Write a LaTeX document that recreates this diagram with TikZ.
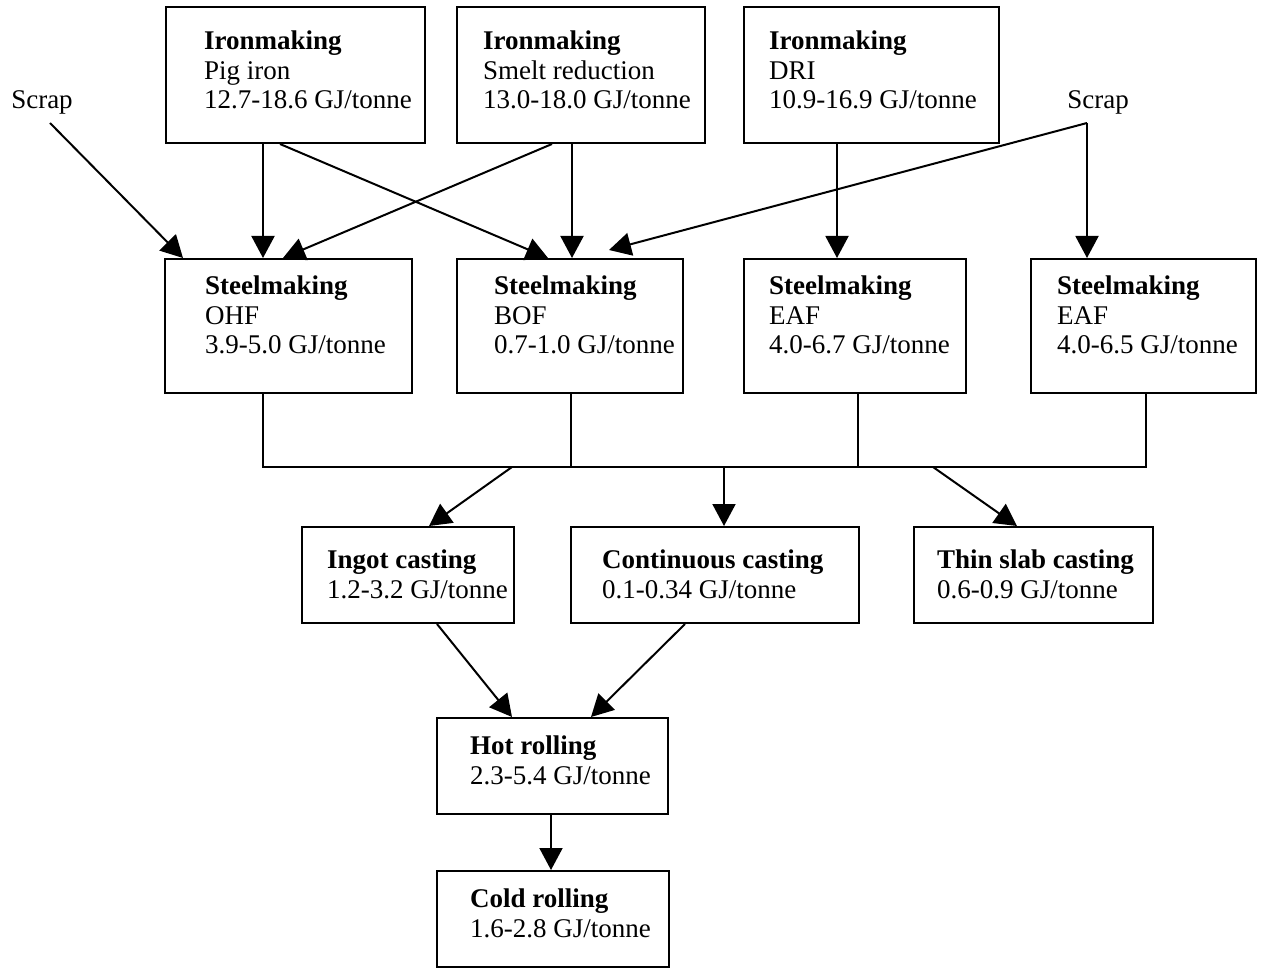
\documentclass[tikz,border=0pt]{standalone}
\usepackage{fontspec}
\setmainfont{Liberation Serif}
\usetikzlibrary{arrows.meta, calc}
\tikzset{
    procbox/.style={rectangle, draw=black, line width=2pt, anchor=north west, inner sep=0pt},
    proctext/.style={anchor=north west, align=left, inner sep=0pt, font=\fontsize{27}{29.5}\selectfont},
    scraplbl/.style={font=\fontsize{27}{29.5}\selectfont, inner sep=2pt},
    arr/.style={-{Triangle[length=22pt, width=23pt]}, line width=2pt},
    link/.style={line width=2pt}
}
\begin{document}
\begin{tikzpicture}[x=1pt, y=-1pt]
    \useasboundingbox (0,0) rectangle (1262,968);

    % Ironmaking
    \node[procbox, minimum width=259pt, minimum height=136pt] (pig) at (165,6) {};
    \node[proctext] (pigtext) at (204,31) {\textbf{Ironmaking}\\Pig iron\\12.7-18.6 GJ/tonne};
    \node[procbox, minimum width=248pt, minimum height=136pt] (smelt) at (456,6) {};
    \node[proctext] (smelttext) at (483,31) {\textbf{Ironmaking}\\Smelt reduction\\13.0-18.0 GJ/tonne};
    \node[procbox, minimum width=255pt, minimum height=136pt] (dri) at (743,6) {};
    \node[proctext] (dritext) at (769,31) {\textbf{Ironmaking}\\DRI\\10.9-16.9 GJ/tonne};
    \node[scraplbl] (scrapl) at (42,102) {Scrap};
    \node[scraplbl] (scrapr) at (1098,102) {Scrap};

    % Steelmaking
    \node[procbox, minimum width=247pt, minimum height=134pt] (ohf) at (164,258) {};
    \node[proctext] (ohftext) at (205,276) {\textbf{Steelmaking}\\OHF\\3.9-5.0 GJ/tonne};
    \node[procbox, minimum width=226pt, minimum height=134pt] (bof) at (456,258) {};
    \node[proctext] (boftext) at (494,276) {\textbf{Steelmaking}\\BOF\\0.7-1.0 GJ/tonne};
    \node[procbox, minimum width=222pt, minimum height=134pt] (eaf) at (743,258) {};
    \node[proctext] (eaftext) at (769,276) {\textbf{Steelmaking}\\EAF\\4.0-6.7 GJ/tonne};
    \node[procbox, minimum width=225pt, minimum height=134pt] (eafb) at (1030,258) {};
    \node[proctext] (eafbtext) at (1057,276) {\textbf{Steelmaking}\\EAF\\4.0-6.5 GJ/tonne};

    % Casting
    \node[procbox, minimum width=212pt, minimum height=96pt] (ingot) at (301,526) {};
    \node[proctext] (ingottext) at (327,550) {\textbf{Ingot casting}\\1.2-3.2 GJ/tonne};
    \node[procbox, minimum width=288pt, minimum height=96pt] (cont) at (570,526) {};
    \node[proctext] (conttext) at (602,550) {\textbf{Continuous casting}\\0.1-0.34 GJ/tonne};
    \node[procbox, minimum width=239pt, minimum height=96pt] (thin) at (913,526) {};
    \node[proctext] (thintext) at (937,550) {\textbf{Thin slab casting}\\0.6-0.9 GJ/tonne};

    % Rolling
    \node[procbox, minimum width=231pt, minimum height=96pt] (hot) at (436,717) {};
    \node[proctext] (hottext) at (470,736) {\textbf{Hot rolling}\\2.3-5.4 GJ/tonne};
    \node[procbox, minimum width=232pt, minimum height=96pt] (cold) at (436,870) {};
    \node[proctext] (coldtext) at (470,889) {\textbf{Cold rolling}\\1.6-2.8 GJ/tonne};

    % Iron to steel
    \coordinate (scrapl-end) at (50,123);
    \coordinate (scrapr-end) at (1087,123);
    \draw[arr] (scrapl-end) -- ([xshift=19pt]ohf.north west);
    \draw[arr] ([xshift=98pt]pig.south west) -- ([xshift=98pt]pig.south west |- ohf.north);
    \draw[arr] ([xshift=115pt]pig.south west) -- ([xshift=92pt]bof.north west);
    \draw[arr] ([xshift=96pt]smelt.south west) -- ([xshift=119pt]ohf.north west);
    \draw[arr] ([xshift=116pt]smelt.south west) -- ([xshift=116pt]smelt.south west |- bof.north);
    \draw[arr] ([xshift=94pt]dri.south west) -- ([xshift=94pt]dri.south west |- eaf.north);
    \draw[arr] (scrapr-end) -- ([xshift=153pt, yshift=8pt]bof.north west);
    \draw[arr] (scrapr-end) -- (scrapr-end |- eafb.north);

    % Steel to casting
    \coordinate (bus) at (0,467);
    \draw[link] ([xshift=99pt]ohf.south west) |- ([xshift=116pt]eafb.south west |- bus) -- ([xshift=116pt]eafb.south west);
    \draw[link] ([xshift=115pt]bof.south west) -- ([xshift=115pt]bof.south west |- bus);
    \draw[link] ([xshift=115pt]eaf.south west) -- ([xshift=115pt]eaf.south west |- bus);
    \draw[arr] ([xshift=211pt]ingot.north west |- bus) -- ([xshift=128pt]ingot.north west);
    \draw[arr] ([xshift=154pt]cont.north west |- bus) -- ([xshift=154pt]cont.north west);
    \draw[arr] ([xshift=20pt]thin.north west |- bus) -- ([xshift=104pt]thin.north west);

    % Casting to rolling
    \draw[arr] ([xshift=136pt]ingot.south west) -- ([xshift=76pt]hot.north west);
    \draw[arr] ([xshift=115pt]cont.south west) -- ([xshift=155pt]hot.north west);
    \draw[arr] ([xshift=115pt]hot.south west) -- ([xshift=115pt]hot.south west |- cold.north);
\end{tikzpicture}
\end{document}
